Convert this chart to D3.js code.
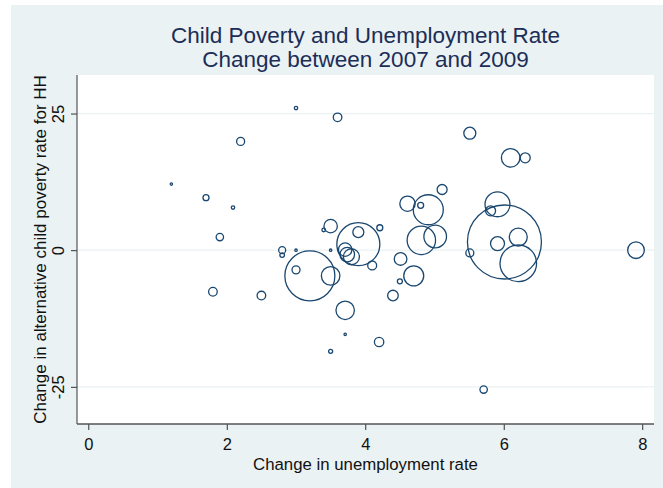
<!DOCTYPE html>
<html>
<head>
<meta charset="utf-8">
<script src="https://cdn.jsdelivr.net/npm/d3@7"></script>
<style>
  html, body { margin: 0; padding: 0; background: #ffffff; }
  svg { display: block; }
  text { font-family: "Liberation Sans", Arial, Helvetica, sans-serif; }
</style>
</head>
<body>
<svg id="chart" width="663" height="488"></svg>
<script>
// Change in unemployment rate (percentage points), 2007-2009
const unempChange = [1.20, 1.70, 2.09, 1.90, 2.20, 3.00, 3.60, 2.80, 2.80, 3.00,
  3.50, 3.40, 3.50, 3.20, 3.00, 3.50, 1.80, 2.50, 3.71, 3.71,
  3.50, 3.90, 3.90, 4.21, 3.71, 3.74, 3.80, 4.10, 4.51, 4.70,
  4.50, 4.40, 4.20, 5.71, 4.81, 5.01, 4.61, 4.91, 4.80, 5.11,
  5.51, 6.10, 6.31, 5.91, 5.81, 6.01, 5.91, 6.21, 6.21, 5.51, 7.91];
// Change in alternative child poverty rate for HH
const povertyChange = [12.1, 9.6, 7.8, 2.4, 19.9, 26.0, 24.3, 0.0, -0.9, 0.0,
  0.0, 3.7, 4.4, -4.7, -3.6, -4.7, -7.6, -8.3, -11.0, -15.4,
  -18.5, 1.1, 3.3, 4.1, 0.1, -0.8, -1.2, -2.8, -1.6, -4.7,
  -5.7, -8.3, -16.8, -25.5, 1.8, 2.5, 8.5, 7.4, 8.2, 11.1,
  21.4, 16.9, 16.9, 8.4, 7.2, 1.5, 1.2, 2.4, -2.4, -0.5, 0.0];
// Bubble weights (relative population weight)
const weights = [1.4, 9, 2.9, 13.7, 16, 2.9, 18.5, 12.2, 5.3, 1.4,
  1.4, 3.2, 45, 625, 16, 86, 18.5, 18.5, 85, 1.4,
  4, 462, 30, 9, 45, 53, 64, 20, 40, 100,
  6.3, 28, 22, 13.7, 202, 128, 59, 225, 9, 25,
  36, 86, 25, 156, 25, 1369, 49, 81, 335, 16, 69];

const xTicks = [0, 2, 4, 6, 8];
const yTicks = [-25, 0, 25];
const titleLines = ["Child Poverty and Unemployment Rate", "Change between 2007 and 2009"];
const xLabel = "Change in unemployment rate";
const yLabel = "Change in alternative child poverty rate for HH";

const W = 663, H = 488;
const plot = { left: 77, right: 654, top: 75, bottom: 424 };
const navy = "#1a476f";

const svg = d3.select("#chart");

// outer graph region
svg.append("rect").attr("x", 11).attr("y", 5).attr("width", W - 11).attr("height", H - 5)
  .attr("fill", "#eaf2f3");
// plot region
svg.append("rect").attr("x", plot.left).attr("y", plot.top)
  .attr("width", plot.right - plot.left).attr("height", plot.bottom - plot.top)
  .attr("fill", "#ffffff");

const x = d3.scaleLinear().domain([-0.163, 8.17]).range([plot.left, plot.right]);
const y = d3.scaleLinear().domain([-31.8, 32.05]).range([plot.bottom, plot.top]);
const r = d3.scaleSqrt().domain([0, d3.max(weights)]).range([0, 37]);

// gridlines
svg.append("g").selectAll("line").data(yTicks).join("line")
  .attr("x1", plot.left).attr("x2", plot.right)
  .attr("y1", d => y(d)).attr("y2", d => y(d))
  .attr("stroke", "#eaf2f3").attr("stroke-width", 1.3);

// bubbles
const data = unempChange.map((d, i) => ({ x: d, y: povertyChange[i], w: weights[i] }));
svg.append("g").selectAll("circle").data(data).join("circle")
  .attr("cx", d => x(d.x)).attr("cy", d => y(d.y))
  .attr("r", d => Math.max(r(d.w), 0.9))
  .attr("fill", "none").attr("stroke", navy).attr("stroke-width", 1.3);

// x axis
const xAxis = svg.append("g").attr("transform", `translate(0,${plot.bottom})`)
  .call(d3.axisBottom(x).tickValues(xTicks).tickSize(6).tickPadding(8).tickFormat(d => String(d)));
xAxis.select(".domain").remove();
xAxis.append("line").attr("x1", plot.left).attr("x2", plot.right).attr("y1", 0).attr("y2", 0)
  .attr("stroke", "#555").attr("stroke-width", 1.5);
xAxis.selectAll(".tick line").attr("stroke", "#333");
xAxis.selectAll(".tick text").attr("font-size", 16.5).attr("fill", "#111")
  .attr("font-family", "'Liberation Sans', Arial, sans-serif");

// y axis
const yAxis = svg.append("g").attr("transform", `translate(${plot.left},0)`)
  .call(d3.axisLeft(y).tickValues(yTicks).tickSize(6).tickFormat(d => String(d)));
yAxis.select(".domain").remove();
yAxis.append("line").attr("x1", 0).attr("x2", 0).attr("y1", plot.top).attr("y2", plot.bottom)
  .attr("stroke", "#555").attr("stroke-width", 1.2);
yAxis.selectAll(".tick line").attr("stroke", "#333");
yAxis.selectAll(".tick text")
  .attr("x", null).attr("dy", null)
  .attr("transform", "translate(-13,0) rotate(-90)")
  .attr("text-anchor", "middle")
  .attr("font-size", 16.5).attr("fill", "#111")
  .attr("font-family", "'Liberation Sans', Arial, sans-serif");

// titles
const cx = (plot.left + plot.right) / 2;
svg.append("g").selectAll("text").data(titleLines).join("text")
  .attr("x", cx).attr("y", (d, i) => 43 + i * 24)
  .attr("text-anchor", "middle").attr("font-size", 22.5).attr("fill", "#1c2d57")
  .text(d => d);

svg.append("text").attr("x", cx).attr("y", 470).attr("text-anchor", "middle")
  .attr("font-size", 16.8).attr("fill", "#111").text(xLabel);

svg.append("text")
  .attr("transform", `translate(46,${(plot.top + plot.bottom) / 2}) rotate(-90)`)
  .attr("text-anchor", "middle").attr("font-size", 17).attr("fill", "#111").text(yLabel);
</script>
</body>
</html>
